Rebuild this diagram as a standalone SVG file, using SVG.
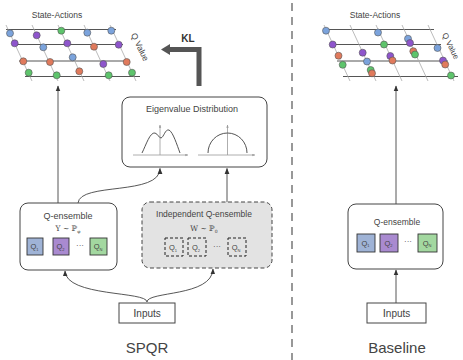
<svg xmlns="http://www.w3.org/2000/svg" xmlns:xlink="http://www.w3.org/1999/xlink" width="463" height="360" viewBox="0 0 463 360">
<style>
.t{font-family:"Liberation Sans",Arial,sans-serif;fill:#444;text-anchor:middle}
.m{font-family:"DejaVu Serif","Liberation Serif",serif;fill:#444;text-anchor:middle;font-size:7.5px}
.hl{stroke:#555;stroke-width:1}
.dl{stroke:#aaa;stroke-width:0.8}
.b{fill:#7ba3dc}.p{fill:#8e55cc}.o{fill:#e07a5c}.g{fill:#5ec46c}
circle{stroke:#555;stroke-width:0.6}
.box{fill:#fff;stroke:#444;stroke-width:1}
.conn{fill:none;stroke:#444;stroke-width:0.9}
.qb{stroke:#333;stroke-width:0.9}
.qd{fill:none;stroke:#222;stroke-width:1;stroke-dasharray:3 2}
.ax{stroke:#999;stroke-width:0.8;fill:none}
.cv{stroke:#555;stroke-width:1;fill:none}
</style>
<defs>
<marker id="ah" viewBox="0 0 10 10" refX="9" refY="5" markerWidth="6" markerHeight="6" orient="auto" markerUnits="userSpaceOnUse"><path d="M0,1 L10,5 L0,9 z" fill="#333"/></marker>
<marker id="sa" viewBox="0 0 10 10" refX="9" refY="5" markerWidth="3" markerHeight="3" orient="auto" markerUnits="userSpaceOnUse"><path d="M0,1 L10,5 L0,9 z" fill="#999"/></marker>
<g id="grid">
<line class="hl" x1="6" y1="29.5" x2="116" y2="29.5"/>
<line class="hl" x1="12" y1="44.5" x2="123" y2="44.5"/>
<line class="hl" x1="19" y1="61" x2="130" y2="61"/>
<line class="hl" x1="25" y1="76.5" x2="140" y2="76.5"/>
<line class="dl" x1="6" y1="25" x2="32" y2="81"/>
<line class="dl" x1="32" y1="25" x2="58" y2="81"/>
<line class="dl" x1="58" y1="25" x2="84" y2="81"/>
<line class="dl" x1="84" y1="25" x2="110" y2="81"/>
<line class="dl" x1="110" y1="25" x2="136" y2="81"/>
</g>
</defs>
<rect width="463" height="360" fill="#fff"/>

<g id="lattice-left">
<use xlink:href="#grid"/>
<circle class="b" cx="10" cy="33.3" r="3.5"/><circle class="p" cx="14.7" cy="43.3" r="3.5"/><circle class="o" cx="23.3" cy="61.3" r="3.5"/><circle class="g" cx="28.7" cy="72.7" r="3.5"/>
<circle class="p" cx="36.7" cy="35.3" r="3.5"/><circle class="b" cx="43.3" cy="47.3" r="3.5"/><circle class="o" cx="50" cy="62" r="3.5"/><circle class="g" cx="56.7" cy="75.3" r="3.5"/>
<circle class="g" cx="61.3" cy="30.7" r="3.5"/><circle class="p" cx="67.3" cy="43.3" r="3.5"/><circle class="b" cx="72.7" cy="57.3" r="3.5"/><circle class="o" cx="79.3" cy="71.3" r="3.5"/>
<circle class="b" cx="87.3" cy="32.7" r="3.5"/><circle class="o" cx="94" cy="46.7" r="3.5"/><circle class="p" cx="103.3" cy="64" r="3.5"/><circle class="g" cx="108.7" cy="75.3" r="3.5"/>
<circle class="b" cx="111.3" cy="30.7" r="3.5"/><circle class="p" cx="118.7" cy="44.7" r="3.5"/><circle class="o" cx="126.7" cy="62" r="3.5"/><circle class="g" cx="132" cy="72.7" r="3.5"/>
<text class="t" x="57" y="18" font-size="8.5">State-Actions</text>
<text class="t" font-size="8.5" transform="translate(140,47) rotate(64)" y="3">Q Value</text>
</g>

<g id="lattice-right">
<use xlink:href="#grid" transform="translate(318,0)"/>
<circle class="b" cx="326" cy="30.7" r="3.5"/><circle class="p" cx="332.7" cy="44.5" r="3.5"/><circle class="o" cx="338.5" cy="55.7" r="3.5"/><circle class="g" cx="342.7" cy="64.8" r="3.5"/>
<circle class="p" cx="362.7" cy="52.7" r="3.5"/><circle class="b" cx="367" cy="61.5" r="3.5"/><circle class="g" cx="370.7" cy="70" r="3.5"/><circle class="o" cx="372" cy="73.3" r="3.5"/>
<circle class="b" cx="378" cy="32.5" r="3.5"/><circle class="g" cx="384" cy="44.5" r="3.5"/><circle class="p" cx="390.3" cy="56" r="3.5"/><circle class="o" cx="392.5" cy="60.5" r="3.5"/>
<circle class="b" cx="408" cy="38.7" r="3.5"/><circle class="p" cx="410" cy="43" r="3.5"/><circle class="o" cx="413.3" cy="51.2" r="3.5"/><circle class="g" cx="415" cy="54.5" r="3.5"/>
<circle class="b" cx="437.5" cy="48" r="3.5"/><circle class="p" cx="443" cy="60.5" r="3.5"/><circle class="o" cx="445.2" cy="64.5" r="3.5"/><circle class="g" cx="451" cy="75.5" r="3.5"/>
<text class="t" x="375" y="18" font-size="8.5">State-Actions</text>
<text class="t" font-size="8" transform="translate(451,46) rotate(64)" y="3">Q Value</text>
</g>

<g id="kl">
<path d="M199,86 V49.5 H168" fill="none" stroke="#555" stroke-width="5"/>
<polygon points="161,49.5 170,44 170,55" fill="#555"/>
<text x="188" y="42" font-family="Liberation Sans,Arial,sans-serif" font-weight="bold" font-size="10" fill="#333" text-anchor="middle">KL</text>
</g>

<line id="divider" x1="292" y1="3" x2="292" y2="360" stroke="#777" stroke-width="1.5" stroke-dasharray="8 6"/>

<g id="connectors">
<line class="conn" x1="58" y1="203" x2="58" y2="86" marker-end="url(#ah)"/>
<path class="conn" d="M78,203 C80,182 160,196 160,168.5" marker-end="url(#ah)"/>
<line class="conn" x1="227" y1="202" x2="227" y2="168.5" marker-end="url(#ah)"/>
<path class="conn" d="M147,302 C147,291 66,297 65,271" marker-end="url(#ah)"/>
<path class="conn" d="M147,302 C147,291 212,297 213,269" marker-end="url(#ah)"/>
<line class="conn" x1="396" y1="204" x2="396" y2="86" marker-end="url(#ah)"/>
<line class="conn" x1="396" y1="303" x2="396" y2="270" marker-end="url(#ah)"/>
</g>

<g id="eigen">
<rect class="box" x="122" y="97" width="145" height="70" rx="8"/>
<text class="t" x="192" y="112" font-size="9">Eigenvalue Distribution</text>
<line class="ax" x1="133" y1="155" x2="188" y2="155" marker-end="url(#sa)"/>
<line class="ax" x1="160" y1="155" x2="160" y2="125" marker-end="url(#sa)"/>
<path class="cv" d="M142,153 C146,145 150,132 155,133 C158,134 159,138 161,138 C164,137 165,129 169,130 C173,132 177,145 180,153"/>
<line class="ax" x1="198" y1="155" x2="255" y2="155" marker-end="url(#sa)"/>
<line class="ax" x1="227.5" y1="155" x2="227.5" y2="125" marker-end="url(#sa)"/>
<path class="cv" d="M208,153 A19.5,20 0 0 1 247,153"/>
</g>

<g id="q-ensemble">
<rect class="box" x="20" y="203" width="97" height="67" rx="8"/>
<text class="t" x="68" y="219" font-size="9">Q-ensemble</text>
<text class="m" x="68" y="231">Υ ~ ℙ<tspan font-size="4.5" dy="1.5">φ</tspan></text>
<rect class="qb" x="27" y="238" width="16" height="17" fill="#9fb3d6"/>
<rect class="qb" x="53" y="238" width="16" height="17" fill="#a98ad0"/>
<rect class="qb" x="90" y="238" width="17" height="17" fill="#a3d8a0"/>
<text class="t" x="34.5" y="249" font-size="7.5">Q<tspan font-size="4" dy="1.5">1</tspan></text>
<text class="t" x="60.5" y="249" font-size="7.5">Q<tspan font-size="4" dy="1.5">2</tspan></text>
<text class="t" x="98" y="249" font-size="7.5">Q<tspan font-size="4" dy="1.5">N</tspan></text>
<text class="t" x="80" y="248" font-size="8" fill="#333">···</text>
</g>

<g id="independent">
<rect x="142" y="202" width="130" height="66" rx="8" fill="#e3e3e3" stroke="#444" stroke-width="1" stroke-dasharray="4 2.5"/>
<text class="t" x="204" y="217" font-size="8.5">Independent Q-ensemble</text>
<text class="m" x="204" y="231">W ~ ℙ<tspan font-size="4.5" dy="1.5">0</tspan></text>
<rect class="qd" x="165" y="238" width="18" height="18"/>
<rect class="qd" x="188" y="238" width="18" height="18"/>
<rect class="qd" x="228" y="238" width="18" height="18"/>
<text class="t" x="173" y="250" font-size="7.5">Q<tspan font-size="4" dy="1.5">1</tspan></text>
<text class="t" x="196" y="250" font-size="7.5">Q<tspan font-size="4" dy="1.5">2</tspan></text>
<text class="t" x="236" y="250" font-size="7.5">Q<tspan font-size="4" dy="1.5">N</tspan></text>
<text class="t" x="217" y="249" font-size="8" fill="#333">···</text>
</g>

<g id="inputs-left">
<rect class="box" x="119" y="303" width="56" height="20"/>
<text class="t" x="147" y="317" font-size="10"><tspan font-size="11.5">I</tspan>nputs</text>
</g>
<text class="t" x="147" y="353" font-size="15" fill="#222">SPQR</text>

<g id="q-ensemble-right">
<rect class="box" x="348" y="204" width="95" height="65" rx="8"/>
<text class="t" x="397" y="225" font-size="8.5">Q-ensemble</text>
<rect class="qb" x="357" y="234" width="18" height="18" fill="#9fb3d6"/>
<rect class="qb" x="380" y="234" width="18" height="18" fill="#a98ad0"/>
<rect class="qb" x="418" y="234" width="19" height="18" fill="#a3d8a0"/>
<text class="t" x="365.5" y="245.5" font-size="7.5">Q<tspan font-size="4" dy="1.5">1</tspan></text>
<text class="t" x="388.5" y="245.5" font-size="7.5">Q<tspan font-size="4" dy="1.5">2</tspan></text>
<text class="t" x="427" y="245.5" font-size="7.5">Q<tspan font-size="4" dy="1.5">N</tspan></text>
<text class="t" x="408" y="244" font-size="8" fill="#333">···</text>
</g>

<g id="inputs-right">
<rect class="box" x="367" y="303" width="59" height="20"/>
<text class="t" x="396.5" y="317" font-size="10"><tspan font-size="11.5">I</tspan>nputs</text>
</g>
<text class="t" x="397" y="353" font-size="15" fill="#222">Baseline</text>
</svg>
